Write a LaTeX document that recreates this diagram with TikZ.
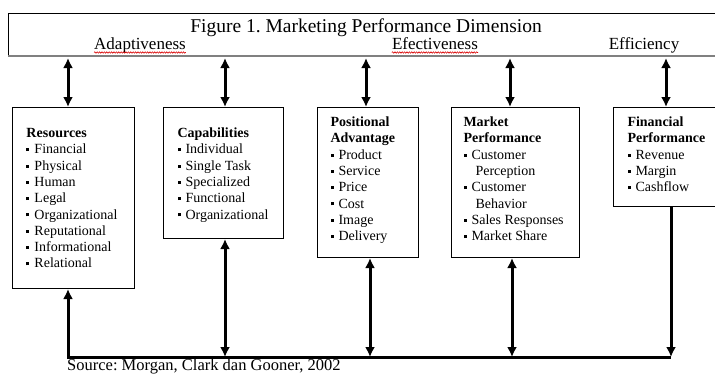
\documentclass[tikz,border=0pt]{standalone}
\usepackage{fontspec}
\setmainfont{Liberation Serif}
\usetikzlibrary{arrows.meta,decorations.pathmorphing}
\frenchspacing

% small square bullet and a fixed-size text block for the boxes
\newcommand{\sq}{\rule[2.6pt]{3pt}{3pt}\hspace{5pt}}
\newcommand{\dimtext}[5]{\parbox[c][#2pt][t]{#1pt}{\fontsize{14}{16.3}\selectfont\leftskip=#3pt\rule{0pt}{#4pt}#5}}

\begin{document}
\begin{tikzpicture}[x=1pt,y=-1pt,>={Latex[length=10pt,width=10pt]}]
\tikzstyle{dimbox}=[draw,line width=1pt,anchor=north west,inner sep=0pt]
\tikzstyle{dimlabel}=[inner sep=0pt,anchor=base]
\tikzstyle{link}=[line width=3pt]
\tikzstyle{spell}=[red!85!black,line width=0.6pt,decorate,decoration={snake,amplitude=0.7pt,segment length=2.4pt}]
\useasboundingbox (0,0) rectangle (715,375);

% header
\node[draw,line width=0.8pt,anchor=north west,inner sep=0pt,minimum width=730pt,minimum height=42pt] (head) at (8,13) {};
\draw[gray,line width=2pt] (head.south west) -- (head.south east);
\node[dimlabel,font=\fontsize{19.5}{22}\selectfont] (title) at (366,32) {Figure 1. Marketing Performance Dimension};
\node[dimlabel,font=\fontsize{17}{20}\selectfont] (adapt) at (140,49) {Adaptiveness};
\node[dimlabel,font=\fontsize{17}{20}\selectfont] (effect) at (435,49) {Efectiveness};
\node[dimlabel,font=\fontsize{17}{20}\selectfont] (effic) at (644,49) {Efficiency};
\draw[spell] ([yshift=-3.5pt]adapt.base west) -- ([yshift=-3.5pt]adapt.base east);
\draw[spell] ([yshift=-3.5pt]effect.base west) -- ([yshift=-3.5pt]effect.base east);

% the five boxes
\node[dimbox] (res) at (12,107) {\dimtext{122}{181}{14}{30}{\textbf{Resources}\\
  \sq Financial\\ \sq Physical\\ \sq Human\\ \sq Legal\\ \sq Organizational\\
  \sq Reputational\\ \sq Informational\\ \sq Relational}};
\node[dimbox] (cap) at (163,107) {\dimtext{120}{131}{14}{30}{\textbf{Capabilities}\\
  \sq Individual\\ \sq Single Task\\ \sq Specialized\\ \sq Functional\\ \sq Organizational}};
\node[dimbox] (pos) at (317,107) {\dimtext{101}{150}{13}{19}{\textbf{Positional}\\ \textbf{Advantage}\\
  \sq Product\\ \sq Service\\ \sq Price\\ \sq Cost\\ \sq Image\\ \sq Delivery}};
\node[dimbox] (mkt) at (451,107) {\dimtext{128}{150}{12}{19}{\textbf{Market}\\ \textbf{Performance}\\
  \sq Customer\\ \hspace*{12pt}Perception\\ \sq Customer\\ \hspace*{12pt}Behavior\\
  \sq Sales Responses\\ \sq Market Share}};
\node[dimbox] (fin) at (613,107) {\dimtext{120}{99}{14}{19}{\textbf{Financial}\\ \textbf{Performance}\\
  \sq Revenue\\ \sq Margin\\ \sq Cashflow}};

% arrows from the header
\foreach \x [count=\i] in {68,225,366,510,666}
  \coordinate (t\i) at (\x,58);
\draw[link,<->] (t1) -- (t1 |- res.north);
\draw[link,<->] (t2) -- (t2 |- cap.north);
\draw[link,<->] (t3) -- (t3 |- pos.north);
\draw[link,<->] (t4) -- (t4 |- mkt.north);
\draw[link,<->] (t5) -- (t5 |- fin.north);

% feedback line at the bottom
\foreach \x [count=\i] in {68,225,370,512,671}
  \coordinate (b\i) at (\x,357);
\draw[link,<-] (b1 |- res.south) -- (b1) -- (b5);
\draw[link,<->] (b2 |- cap.south) -- (b2);
\draw[link,<->] (b3 |- pos.south) -- (b3);
\draw[link,<->] (b4 |- mkt.south) -- (b4);
\draw[link,->] (b5 |- fin.south) -- (b5);

\node[dimlabel,anchor=base west,font=\fontsize{16.5}{19}\selectfont] (src) at (67,370.5) {Source: Morgan, Clark dan Gooner, 2002};
\end{tikzpicture}
\end{document}
